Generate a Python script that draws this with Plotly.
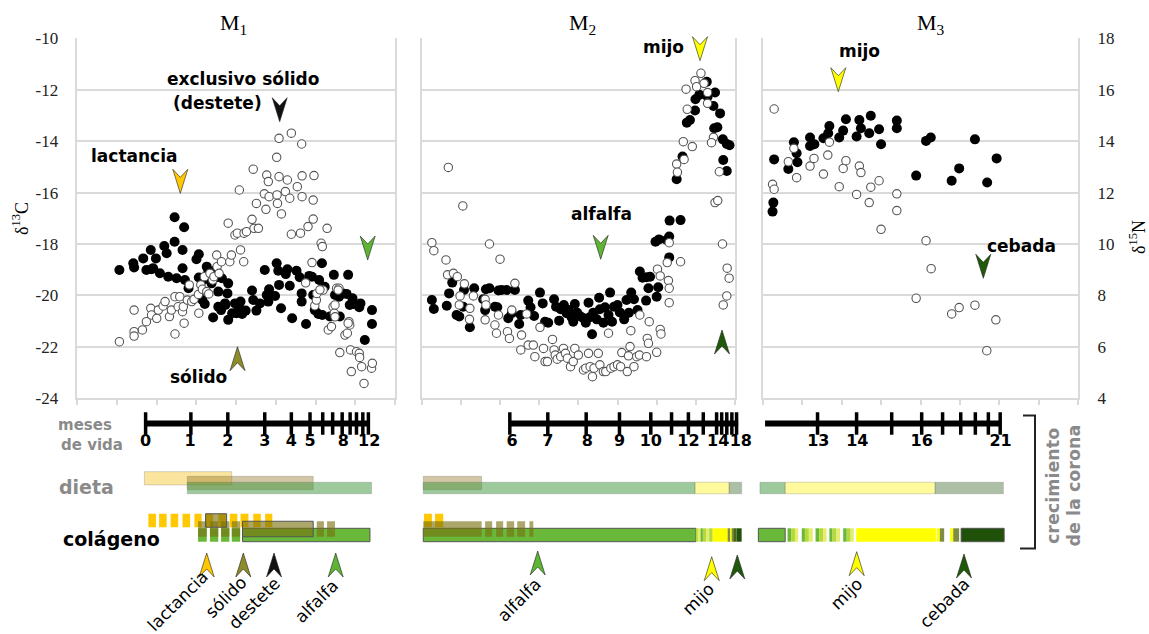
import plotly.graph_objects as go

W, H = 1149, 634

# ============================ DATA ============================
# Crown position of each sample (gridline units, 0-8 in every tooth panel).
# Filled circles: d15N (right axis).  Open circles: d13C (left axis).
m1_n15_pos = [1.06,1.41,1.43,1.66,1.74,1.85,1.98,1.91,2.08,2.19,
              2.25,2.29,2.45,2.45,2.50,2.65,2.65,2.69,2.71,2.80,
              3.00,3.06,3.15,3.21,3.26,3.38,3.45,3.51,3.55,3.55,
              3.42,3.62,3.73,3.80,3.78,3.80,3.90,3.97,4.01,4.06,
              4.11,4.15,4.24,4.40,4.43,4.51,4.60,4.72,4.77,4.83,
              4.81,5.02,5.06,5.08,4.98,5.13,5.25,5.29,5.35,5.41,
              5.52,5.60,5.65,5.65,5.76,5.84,5.91,5.94,5.98,6.07,
              6.09,6.16,6.17,6.23,6.36,6.46,6.49,6.59,6.61,6.69,
              6.82,6.78,6.86,6.93,6.96,7.10,7.13,7.24,7.42,7.42,
              1.87,3.06,3.17,3.30,3.64,3.72]
m1_n15 = [8.99,9.25,9.09,9.44,8.99,9.77,9.44,9.06,8.86,9.92,
          9.64,8.73,11.04,10.09,8.67,9.77,9.06,10.65,8.60,8.28,
          9.41,9.60,7.82,7.67,9.12,8.47,8.96,8.71,8.15,7.56,
          7.14,7.43,7.63,8.47,8.08,7.05,7.31,7.69,7.31,7.56,
          7.76,7.28,7.41,8.19,7.82,7.41,7.69,8.99,8.02,8.24,
          7.76,9.25,8.96,8.41,7.98,7.50,8.83,9.02,8.38,7.11,
          8.96,8.71,8.08,7.76,6.89,8.76,8.73,8.02,7.43,7.28,
          8.60,9.25,7.24,8.34,7.18,8.80,8.02,7.95,7.18,8.08,
          8.80,8.06,7.63,7.89,7.67,7.54,7.69,6.27,7.43,6.89,
          9.02,8.70,8.60,8.92,8.67,7.69]
m1_c13_pos = [1.06,1.43,1.43,1.43,1.64,1.74,1.85,1.87,2.00,2.04,
              2.16,2.21,2.32,2.37,2.46,2.46,2.54,2.58,2.65,2.67,
              2.69,2.77,2.82,2.88,2.94,3.05,3.06,3.11,3.15,3.20,
              3.26,3.31,3.34,3.41,3.44,3.51,3.52,3.57,3.63,3.80,
              3.84,3.88,3.97,4.03,4.08,4.11,4.19,4.20,4.26,4.40,
              4.43,4.45,4.51,4.56,4.71,4.75,4.77,4.81,4.83,5.02,
              5.03,5.04,5.08,5.08,5.14,5.24,5.29,5.35,5.39,5.39,
              5.54,5.62,5.65,5.66,5.66,5.81,5.91,5.94,5.96,5.94,
              5.98,6.02,5.75,6.14,6.17,6.19,6.29,6.32,6.40,6.44,
              6.47,6.53,6.59,6.61,6.74,6.80,6.84,6.86,6.88,6.90,
              7.03,7.10,7.11,7.16,7.22,7.41,7.43,6.03,6.11,6.49,
              6.49,6.57,6.82]
m1_c13 = [-21.80,-20.57,-21.41,-21.58,-21.34,-21.02,-20.50,-20.76,-20.89,-20.57,
          -20.41,-20.24,-20.82,-20.57,-21.50,-20.05,-20.44,-20.05,-20.63,-20.44,
          -21.08,-20.18,-19.59,-20.24,-20.15,-19.96,-20.69,-19.59,-19.76,-19.27,
          -19.85,-19.94,-19.14,-19.40,-19.27,-18.43,-18.88,-19.14,-18.69,-17.19,
          -18.69,-18.43,-17.65,-17.58,-15.90,-18.23,-18.69,-17.58,-17.52,-17.04,
          -15.09,-17.39,-16.42,-17.39,-16.05,-16.65,-15.32,-15.57,-16.16,-14.63,
          -16.09,-16.42,-13.89,-15.38,-16.83,-15.96,-15.51,-16.22,-13.69,-17.62,
          -15.77,-17.58,-14.11,-15.35,-16.16,-17.32,-18.72,-16.29,-15.34,-17.03,
          -20.40,-20.18,-19.51,-17.97,-18.10,-19.79,-17.39,-21.34,-21.21,-20.44,
          -20.69,-19.72,-19.72,-22.22,-21.54,-21.47,-21.02,-21.15,-22.12,-22.96,
          -22.19,-22.25,-22.41,-22.77,-23.42,-22.83,-22.64,-19.92,-19.78,-20.37,
          -20.83,-19.79,-21.08]

m2_n15_pos = [0.26,0.31,0.64,0.70,0.78,0.89,0.96,1.06,1.08,1.23,
              1.34,1.57,1.62,1.64,1.73,1.87,1.93,1.96,2.04,2.17,
              2.21,2.30,2.38,2.49,2.53,2.72,2.78,2.87,3.02,3.09,
              3.15,3.23,3.38,3.43,3.51,3.55,3.63,3.70,3.76,3.83,
              3.87,3.91,3.97,4.06,4.13,4.19,4.26,4.28,4.35,4.38,
              4.47,4.53,4.55,4.64,4.68,4.77,4.81,4.86,4.91,5.00,
              5.06,5.17,5.23,5.29,5.35,5.42,5.51,5.57,5.64,5.74,
              5.73,5.79,5.83,6.04,6.00,5.97,6.06,6.26,6.32,6.32,
              6.33,6.61,6.51,6.66,6.77,6.85,6.98,6.99,7.09,7.28,
              7.30,7.45,7.49,7.62,7.47,7.55,7.69,7.79,7.86,7.70,7.79]
m2_n15 = [7.82,7.47,7.60,8.08,8.50,7.24,7.18,7.56,8.21,6.76,
          8.28,7.85,7.43,8.24,8.28,7.56,7.54,8.19,8.21,8.21,
          7.11,7.31,8.21,6.89,7.24,7.80,7.54,7.20,8.11,7.69,
          6.98,6.94,7.85,7.56,7.02,7.46,7.63,7.31,7.43,7.14,
          6.98,7.67,7.33,7.18,7.11,6.94,7.72,7.14,6.49,7.33,
          7.07,7.91,7.46,6.94,7.54,7.24,8.11,6.98,7.56,7.63,
          7.34,7.07,7.82,7.33,8.11,7.85,7.43,8.93,8.69,8.71,
          7.80,8.28,8.73,8.32,7.95,10.09,10.18,10.16,10.29,9.48,
          10.91,10.93,12.52,13.40,14.72,14.82,15.19,15.63,15.80,16.31,
          15.73,15.37,15.89,15.08,14.50,14.54,14.07,13.89,13.84,13.27,12.84]
m2_c13_pos = [0.26,0.31,0.62,0.68,0.66,0.81,0.91,1.05,0.98,0.96,
              1.09,1.23,1.22,1.32,1.62,1.64,1.62,1.73,1.87,1.91,
              1.96,2.00,2.19,2.24,2.38,2.30,2.53,2.55,2.72,2.85,
              2.89,3.02,3.11,3.15,3.21,3.34,3.38,3.41,3.46,3.55,
              3.62,3.67,3.72,3.80,3.87,3.91,4.00,4.13,4.19,4.26,
              4.30,4.36,4.40,4.51,4.55,4.64,4.70,4.77,4.83,4.91,
              5.00,5.08,5.11,5.25,5.28,5.32,5.34,5.42,5.49,5.56,
              5.57,5.74,5.76,5.79,5.81,6.00,6.02,6.09,6.09,6.11,
              6.27,6.30,6.32,6.32,6.32,6.61,6.51,6.53,6.70,6.68,
              6.91,6.78,6.75,6.98,7.02,7.13,7.21,7.30,7.30,7.45,
              7.40,7.60,7.49,7.56,7.68,7.80,7.85,7.79,7.70,2.68]
m2_c13 = [-17.95,-18.26,-18.62,-15.02,-19.20,-19.14,-19.27,-16.52,-20.02,-20.37,
          -19.55,-20.50,-20.93,-20.02,-20.15,-20.37,-20.95,-18.00,-21.15,-21.47,
          -20.76,-18.59,-21.41,-21.67,-19.53,-20.57,-22.12,-21.54,-21.93,-21.93,
          -22.38,-21.24,-22.06,-22.57,-22.57,-21.71,-22.12,-22.32,-22.48,-22.38,
          -22.06,-22.25,-22.44,-22.77,-22.57,-22.06,-22.32,-22.90,-22.83,-22.25,
          -22.77,-23.16,-22.83,-22.25,-22.70,-22.96,-22.96,-21.47,-22.83,-22.77,
          -22.70,-22.77,-22.22,-22.96,-22.35,-21.99,-21.37,-22.77,-22.38,-22.32,
          -20.76,-22.38,-21.67,-21.86,-21.02,-22.21,-18.98,-19.24,-21.32,-21.50,
          -18.72,-19.42,-19.72,-20.28,-17.95,-18.69,-14.89,-15.21,-14.71,-14.02,
          -14.21,-12.76,-11.98,-11.65,-11.88,-11.36,-11.75,-12.11,-12.53,-13.85,
          -14.06,-15.19,-16.39,-16.31,-18.00,-18.94,-19.33,-20.02,-20.37,-20.72]

m3_n15_pos = [0.29,0.27,0.25,0.65,0.79,0.86,0.88,1.20,1.20,1.31,1.54,1.69,1.66,1.94,
              2.04,2.11,2.38,2.45,2.49,2.70,2.74,2.95,3.00,3.40,3.40,3.89,4.14,4.26,
              4.79,4.98,5.38,5.69,5.93]
m3_n15 = [13.29,11.61,11.26,12.92,13.96,13.53,13.18,14.14,13.81,13.88,14.11,14.59,14.31,14.14,
          14.41,14.85,14.18,14.82,14.50,14.31,14.99,14.46,13.88,14.80,14.50,12.66,14.01,14.14,
          12.46,12.94,14.07,12.39,13.33]
m3_c13_pos = [0.29,0.25,0.29,0.65,0.79,0.86,1.20,1.30,1.54,1.65,1.69,1.94,2.04,2.11,2.38,2.45,
              2.49,2.70,2.74,2.95,3.00,3.40,3.40,3.89,4.14,4.27,4.79,4.98,5.38,5.68,5.91]
m3_c13 = [-12.75,-15.68,-15.87,-14.80,-14.28,-15.42,-14.97,-14.67,-15.28,-14.54,-14.04,-15.77,
          -15.06,-14.76,-16.07,-14.97,-15.22,-16.39,-15.79,-15.54,-17.43,-16.05,-16.70,-20.11,
          -17.87,-18.96,-20.72,-20.47,-20.38,-22.15,-20.95]

c13_ticks = [-24, -22, -20, -18, -16, -14, -12, -10]
n15_ticks = [4, 6, 8, 10, 12, 14, 16, 18]
panel_titles = ["M<sub>1</sub>", "M<sub>2</sub>", "M<sub>3</sub>"]

# Age scale under each tooth: month -> crown position (ticks) and printed labels
m1_months = [0, 1, 2, 3, 4, 5, 6, 7, 8, 9, 10, 11, 12]
m1_month_pos = [1.72, 2.86, 3.79, 4.72, 5.39, 5.86, 6.18, 6.43, 6.67, 6.87, 7.03, 7.19, 7.33]
m1_labels = ["0", "1", "2", "3", "4", "5", "8", "12"]
m1_label_pos = [1.72, 2.84, 3.79, 4.72, 5.39, 5.86, 6.70, 7.35]
m1_scale_ends = [1.72, 7.35]
m2_months = [6, 7, 8, 9, 10, 11, 12, 13, 14, 15, 16, 17, 18]
m2_month_pos = [2.25, 3.22, 4.20, 5.05, 5.85, 6.38, 6.81, 7.19, 7.53, 7.66, 7.79, 7.92, 8.04]
m2_labels = ["6", "7", "8", "9", "10", "12", "14", "18"]
m2_label_pos = [2.31, 3.22, 4.23, 5.05, 5.85, 6.81, 7.57, 8.15]
m2_scale_ends = [2.25, 8.08]
m3_months = [13, 14, 15, 16, 17, 18, 19, 20, 21]
m3_month_pos = [1.39, 2.38, 3.27, 4.03, 4.56, 5.02, 5.39, 5.72, 6.02]
m3_labels = ["13", "14", "16", "21"]
m3_label_pos = [1.41, 2.40, 4.03, 6.03]
m3_scale_ends = [0.06, 6.05]

# Diet phases (crown position start / end)
m1_diet_food = ["lactancia", "solido", "alfalfa"]
m1_diet_start = [1.69, 2.77, 2.77]
m1_diet_end = [3.89, 5.94, 7.41]
m2_diet_food = ["solido", "alfalfa", "mijo", "cebada"]
m2_diet_start = [0.04, 0.04, 6.98, 7.85]
m2_diet_end = [1.53, 6.98, 7.85, 8.17]
m3_diet_food = ["alfalfa", "mijo", "cebada"]
m3_diet_start = [-0.07, 0.57, 4.37]
m3_diet_end = [0.57, 4.37, 6.10]

# Collagen signal segments (food, start, end, lane, outlined box)
m1_col_food = ["lactancia"] * 11 + ["alfalfa"] * 5 + ["solido"] * 7 + ["solido"]
m1_col_start = [1.79, 2.06, 2.35, 2.65, 2.95, 3.23, 3.55, 3.84, 4.11, 4.43, 4.73,
                3.04, 3.34, 3.62, 3.89, 4.16,
                3.04, 3.34, 3.62, 3.89, 4.16, 6.03, 6.29,
                3.23]
m1_col_end = [1.98, 2.25, 2.54, 2.84, 3.13, 3.42, 3.74, 4.03, 4.31, 4.62, 4.91,
              3.26, 3.55, 3.83, 4.10, 7.37,
              3.26, 3.55, 3.83, 4.10, 5.94, 6.21, 6.49,
              3.76]
m1_col_lane = ["A"] * 11 + ["C"] * 5 + ["B"] * 7 + ["A"]
m1_col_box = [0] * 11 + [0, 0, 0, 0, 1] + [0, 0, 0, 0, 1, 0, 0] + [1]

m2_col_food = ["lactancia", "lactancia", "alfalfa",
               "solido", "solido", "solido", "solido", "solido", "solido",
               "verde_amarillo", "amarillo_claro", "alfalfa", "verde_amarillo", "amarillo_claro",
               "verde_amarillo", "mijo", "oliva_gris", "mijo", "oliva_gris", "oliva_oscuro", "cebada"]
m2_col_start = [0.06, 0.34, 0.04,
                0.04, 1.62, 1.90, 2.17, 2.44, 2.75,
                7.00, 7.07, 7.12, 7.18, 7.26, 7.34, 7.43, 7.83, 7.88, 7.94, 7.99, 8.04]
m2_col_end = [0.26, 0.55, 7.00,
              1.53, 1.80, 2.08, 2.36, 2.64, 2.85,
              7.07, 7.12, 7.18, 7.26, 7.34, 7.43, 7.83, 7.88, 7.94, 7.99, 8.04, 8.17]
m2_col_lane = ["A", "A", "C"] + ["B"] * 6 + ["C"] * 12
m2_col_box = [0, 0, 1] + [0] * 6 + [0] * 12

m3_col_food = ["alfalfa",
               "alfalfa", "verde_amarillo", "amarillo_claro",
               "alfalfa", "verde_amarillo", "amarillo_claro",
               "alfalfa", "verde_amarillo", "amarillo_claro",
               "alfalfa", "verde_amarillo", "amarillo_claro",
               "alfalfa", "verde_amarillo", "amarillo_claro",
               "mijo", "mijo", "oliva_gris", "mijo", "oliva_gris", "cebada"]
m3_col_start = [-0.11, 0.63, 0.72, 0.82, 0.99, 1.07, 1.17, 1.34, 1.43, 1.53,
                1.69, 1.77, 1.87, 2.04, 2.13, 2.23, 2.37, 4.41, 4.49, 4.75, 4.83, 5.03]
m3_col_end = [0.57, 0.72, 0.82, 0.90, 1.07, 1.17, 1.27, 1.43, 1.53, 1.62,
              1.77, 1.87, 1.96, 2.13, 2.23, 2.31, 4.39, 4.49, 4.60, 4.83, 4.98, 6.12]
m3_col_lane = ["C"] * 22
m3_col_box = [1] + [0] * 20 + [1]

# ============================ STYLE / LAYOUT ============================
SERIF = "Liberation Serif"
SANS = "DejaVu Sans"
GRID = "#dadada"
GREY_TXT = "#8a8a8a"

PANEL_PX = [(77.3, 395.0), (421.7, 735.0), (762.7, 1078.3)]
LOWER_PX = [(77.3, 395.0), (421.7, 752.0), (748.0, 1078.3)]
TOP_PX, BOT_PX = 38.3, 398.3
LOWER_TOP_PX = 400.0

# lanes in the lower strip: (centre pixel row, thickness)
DIET_LANE = {"lactancia": (478.3, 13.3), "solido": (483.0, 13.3), "main": (488.0, 11.5)}
COL_LANE = {"A": (520.5, 13.5), "B": (529.0, 15.5), "C": (535.0, 13.4)}
SCALE_ROW, MONTH_ROW = 423.5, 442.0

DIET_COLOR = {"lactancia": "rgba(245,195,40,0.45)", "solido": "rgba(150,120,40,0.42)",
              "alfalfa": "rgba(60,150,60,0.5)", "mijo": "rgba(255,248,60,0.5)",
              "cebada": "rgba(40,90,20,0.38)"}
COL_COLOR = {"lactancia": "#FFC800", "solido": "rgba(120,112,15,0.62)", "alfalfa": "#6AB83A",
             "mijo": "#FFFF00", "cebada": "#1F5208", "verde_amarillo": "#B5D83A",
             "amarillo_claro": "#E4EE6E", "oliva_gris": "#7E8C45", "oliva_oscuro": "#4A6418"}

C_LACT, C_SOL, C_DEST, C_ALF, C_MIJO, C_CEB = "#FFC800", "#8C8C2A", "#111111", "#5DB533", "#FFFF00", "#1F5A0B"


def fx(p):
    return p / W


def fy(p):
    return 1 - p / H


fig = go.Figure()

panels = [
    (m1_n15_pos, m1_n15, m1_c13_pos, m1_c13),
    (m2_n15_pos, m2_n15, m2_c13_pos, m2_c13),
    (m3_n15_pos, m3_n15, m3_c13_pos, m3_c13),
]
for i, (npos, nval, cpos, cval) in enumerate(panels):
    s = "" if i == 0 else str(i + 1)
    fig.add_trace(go.Scatter(x=npos, y=nval, xaxis="x" + s, yaxis="y" + s, mode="markers",
                             marker=dict(size=10, color="black", line=dict(width=0)),
                             hoverinfo="skip", showlegend=False))
    fig.add_trace(go.Scatter(x=cpos, y=cval, xaxis="x" + s, yaxis="y" + str(i + 4), mode="markers",
                             marker=dict(size=8.4, color="white", line=dict(color="#555555", width=1.1)),
                             hoverinfo="skip", showlegend=False))

lower = [
    (m1_diet_food, m1_diet_start, m1_diet_end, m1_col_food, m1_col_start, m1_col_end, m1_col_lane, m1_col_box,
     m1_month_pos, m1_labels, m1_label_pos, m1_scale_ends),
    (m2_diet_food, m2_diet_start, m2_diet_end, m2_col_food, m2_col_start, m2_col_end, m2_col_lane, m2_col_box,
     m2_month_pos, m2_labels, m2_label_pos, m2_scale_ends),
    (m3_diet_food, m3_diet_start, m3_diet_end, m3_col_food, m3_col_start, m3_col_end, m3_col_lane, m3_col_box,
     m3_month_pos, m3_labels, m3_label_pos, m3_scale_ends),
]
for i, (df, ds, de, cf, cs, ce, cl, cb, mpos, labs, lpos, ends) in enumerate(lower):
    xa, ya = "x" + str(i + 4), "y" + str(i + 7)
    dl = [DIET_LANE[f] if f in DIET_LANE else DIET_LANE["main"] for f in df]
    fig.add_trace(go.Bar(orientation="h", base=ds, x=[e - b for b, e in zip(ds, de)],
                         y=[H - l[0] for l in dl], width=[l[1] for l in dl],
                         marker=dict(color=[DIET_COLOR[f] for f in df],
                                     line=dict(color="rgba(110,110,110,0.35)", width=0.8)),
                         xaxis=xa, yaxis=ya, hoverinfo="skip", showlegend=False, textposition="none"))
    fig.add_trace(go.Bar(orientation="h", base=cs, x=[e - b for b, e in zip(cs, ce)],
                         y=[H - COL_LANE[l][0] for l in cl], width=[COL_LANE[l][1] for l in cl],
                         marker=dict(color=[COL_COLOR[f] for f in cf],
                                     line=dict(color=["#555555" if b else "rgba(0,0,0,0)" for b in cb],
                                               width=[1.0 if b else 0 for b in cb])),
                         xaxis=xa, yaxis=ya, hoverinfo="skip", showlegend=False, textposition="none"))
    fig.add_trace(go.Scatter(x=ends, y=[H - SCALE_ROW] * 2, mode="lines", line=dict(color="black", width=6),
                             xaxis=xa, yaxis=ya, hoverinfo="skip", showlegend=False))
    fig.add_trace(go.Scatter(x=mpos, y=[H - SCALE_ROW] * len(mpos), mode="markers",
                             marker=dict(symbol="line-ns", size=16, line=dict(color="black", width=3.5)),
                             xaxis=xa, yaxis=ya, hoverinfo="skip", showlegend=False))
    fig.add_trace(go.Scatter(x=lpos, y=[H - MONTH_ROW] * len(lpos), mode="text", text=labs,
                             textposition="middle center",
                             textfont=dict(family=SANS, size=16, color="black", weight="bold"),
                             xaxis=xa, yaxis=ya, hoverinfo="skip", showlegend=False))

layout = dict(width=W, height=H, margin=dict(l=0, r=0, t=0, b=0), template="none",
              paper_bgcolor="white", plot_bgcolor="rgba(0,0,0,0)", showlegend=False,
              barmode="overlay", font=dict(family=SANS, color="black"))
tickfont = dict(family=SERIF, size=17, color="#222222")
for i in range(3):
    L, R = PANEL_PX[i]
    s = "" if i == 0 else str(i + 1)
    layout["xaxis" + s] = dict(domain=[L / W, R / W], range=[0, 8], anchor="y" + s, tickmode="linear",
                               tick0=0, dtick=1, ticks="outside", ticklen=5, tickwidth=1.5, tickcolor=GRID,
                               showticklabels=False, showline=True, linecolor=GRID, linewidth=1.5,
                               showgrid=False, zeroline=False, fixedrange=True)
    layout["yaxis" + s] = dict(domain=[1 - BOT_PX / H, 1 - TOP_PX / H], range=[4, 18], anchor="x" + s,
                               side="right", tickmode="array", tickvals=n15_ticks,
                               ticktext=[str(v) for v in n15_ticks], showticklabels=(i == 2), ticks="",
                               ticklabelstandoff=14, tickfont=tickfont, showgrid=True, gridcolor=GRID,
                               gridwidth=1.5, showline=True, linecolor=GRID, linewidth=1.5, zeroline=False,
                               fixedrange=True)
    layout["yaxis" + str(i + 4)] = dict(overlaying="y" + s, anchor="x" + s, side="left", range=[-24, -10],
                                        tickmode="array", tickvals=c13_ticks,
                                        ticktext=["-" + str(abs(v)) for v in c13_ticks],
                                        showticklabels=(i == 0), ticks="", ticklabelstandoff=14,
                                        tickfont=tickfont, showgrid=False, showline=True, linecolor=GRID,
                                        linewidth=1.5, zeroline=False, fixedrange=True)
    a, b = LOWER_PX[i]
    unit = (R - L) / 8
    layout["xaxis" + str(i + 4)] = dict(domain=[a / W, b / W], range=[(a - L) / unit, (b - L) / unit],
                                        anchor="y" + str(i + 7), visible=False, fixedrange=True)
    layout["yaxis" + str(i + 7)] = dict(domain=[0, 1 - LOWER_TOP_PX / H], range=[0, H - LOWER_TOP_PX],
                                        anchor="x" + str(i + 4), visible=False, fixedrange=True)


def txt(x, y, t, size, color="black", bold=True, family=SANS, angle=0, xanchor="center", yanchor="middle"):
    return dict(x=fx(x), y=fy(y), xref="paper", yref="paper", text=t, showarrow=False, textangle=angle,
                xanchor=xanchor, yanchor=yanchor, borderpad=0,
                font=dict(family=family, size=size, color=color, weight="bold" if bold else "normal"))


ann = []
for t, xc in zip(panel_titles, [233, 582, 931]):
    ann.append(txt(xc, 24, t, 22, bold=False, family=SERIF))
ann.append(txt(20, 219, "δ<sup>13</sup>C", 18, bold=False, family=SERIF, angle=-90))
ann.append(txt(1137, 237, "δ<sup>15</sup>N", 18, bold=False, family=SERIF, angle=-90))
# in-chart labels
ann += [
    txt(165.7, 79, "exclusivo sólido", 17, xanchor="left"),
    txt(172, 102.5, "(destete)", 17, xanchor="left"),
    txt(133.8, 155.7, "lactancia", 17),
    txt(198, 377.3, "sólido", 17),
    txt(601.7, 214, "alfalfa", 17),
    txt(663, 47.5, "mijo", 17),
    txt(859, 51.5, "mijo", 17),
    txt(1021, 245.7, "cebada", 17),
]
# lower strip labels
ann += [
    txt(56.5, 434.5, "meses", 15, color=GREY_TXT, xanchor="left", yanchor="bottom"),
    txt(59.5, 434.5, "de vida", 15, color=GREY_TXT, xanchor="left", yanchor="top"),
    txt(57.5, 486.7, "dieta", 19, color=GREY_TXT, xanchor="left"),
    txt(61.5, 538.5, "colágeno", 19, xanchor="left"),
    txt(1053, 486, "crecimiento", 17.5, color=GREY_TXT, angle=-90),
    txt(1073.5, 486, "de la corona", 17.5, color=GREY_TXT, angle=-90),
]
for x, y, t in [(177.5, 600.5, "lactancia"), (226, 597, "sólido"), (254.5, 603, "destete"),
                (316.7, 601, "alfalfa"), (519, 600, "alfalfa"), (698, 599, "mijo"),
                (846, 593.5, "mijo"), (944, 602.5, "cebada")]:
    ann.append(txt(x, y, t, 17, bold=False, angle=-45))
layout["annotations"] = ann


def arrow(x, y, color, up=False):
    k = -1 if up else 1
    path = "M0,0 L-7.5,%g L0,%g L7.5,%g Z" % (24 * k, 16 * k, 24 * k)
    return dict(type="path", xref="paper", yref="paper", xsizemode="pixel", ysizemode="pixel",
                xanchor=fx(x), yanchor=fy(y), path=path, fillcolor=color,
                line=dict(color="rgba(30,30,30,0.85)", width=0.7), layer="above")


shapes = [
    arrow(180.3, 193.3, C_LACT), arrow(279.7, 121.7, C_DEST), arrow(367.7, 260, C_ALF),
    arrow(237.5, 346.7, C_SOL, up=True), arrow(700, 60.7, C_MIJO), arrow(600.7, 259.3, C_ALF),
    arrow(722, 330, C_CEB, up=True), arrow(838.3, 91.7, C_MIJO), arrow(983.3, 278.3, C_CEB),
    arrow(206.7, 553, C_LACT, up=True), arrow(243.3, 553, C_SOL, up=True),
    arrow(274, 553, C_DEST, up=True), arrow(335.7, 553, C_ALF, up=True),
    arrow(537.7, 551, C_ALF, up=True), arrow(711.7, 556.7, C_MIJO, up=True),
    arrow(737.3, 555, C_CEB, up=True), arrow(856.7, 551.7, C_MIJO, up=True),
    arrow(964, 554, C_CEB, up=True),
]
shapes.append(dict(type="path", xref="paper", yref="paper",
                   path="M%f,%f L%f,%f L%f,%f L%f,%f" % (fx(1023), fy(415.5), fx(1035), fy(415.5),
                                                         fx(1035), fy(548.5), fx(1020), fy(548.5)),
                   line=dict(color="#222222", width=2)))
layout["shapes"] = shapes

fig.update_layout(**layout)
fig.write_html("out.html", config={"displayModeBar": False},
               post_script="document.body.style.margin='0';document.body.style.overflow='hidden';")
